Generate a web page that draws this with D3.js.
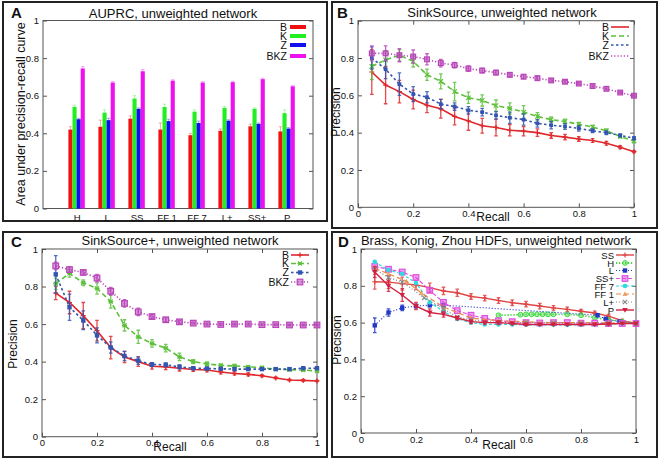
<!DOCTYPE html>
<html><head><meta charset="utf-8">
<script src="https://cdn.jsdelivr.net/npm/d3@7"></script>
<style>
body{margin:0;background:#fff}
svg{display:block}
text{font-family:"Liberation Sans",Arial,Helvetica,sans-serif;fill:#111}
</style>
</head><body>
<svg id="chart" width="661" height="462"></svg>
<script>
// ---------------- DATA ----------------
const axisTicks = [0, 0.2, 0.4, 0.6, 0.8, 1];
const axisTickLabels = ["0", "0.2", "0.4", "0.6", "0.8", "1"];

// Panel A
const aCategories = ["H", "L", "SS", "FF 1", "FF 7", "L+", "SS+", "P"];
const aSeriesNames = ["B", "K", "Z", "BKZ"];
const aB   = [0.420, 0.435, 0.478, 0.420, 0.390, 0.413, 0.437, 0.410];
const aK   = [0.540, 0.510, 0.585, 0.540, 0.515, 0.535, 0.530, 0.507];
const aZ   = [0.475, 0.470, 0.530, 0.465, 0.455, 0.467, 0.450, 0.425];
const aBKZ = [0.745, 0.670, 0.730, 0.680, 0.670, 0.672, 0.688, 0.650];
const aBErr   = [0.015, 0.035, 0.015, 0.035, 0.010, 0.010, 0.012, 0.025];
const aKErr   = [0.010, 0.015, 0.015, 0.015, 0.010, 0.008, 0.005, 0.018];
const aZErr   = [0.005, 0.010, 0.005, 0.010, 0.010, 0.005, 0.005, 0.005];
const aBKZErr = [0.010, 0.005, 0.010, 0.005, 0.005, 0.005, 0.005, 0.005];

// Recall grid used by panels B, C, D
const recall = [0.05, 0.10, 0.15, 0.20, 0.25, 0.30, 0.35, 0.40, 0.45, 0.50,
                0.55, 0.60, 0.65, 0.70, 0.75, 0.80, 0.85, 0.90, 0.95, 1.00];

// Panel B: SinkSource
const bB   = [0.725,0.655,0.620,0.578,0.547,0.528,0.487,0.463,0.437,0.428,0.413,0.408,0.400,0.385,0.376,0.366,0.358,0.343,0.322,0.298];
const bBErr= [0.120,0.100,0.060,0.050,0.040,0.050,0.045,0.050,0.040,0.045,0.030,0.025,0.020,0.015,0.015,0.012,0.010,0.010,0.008,0.005];
const bK   = [0.755,0.790,0.815,0.782,0.710,0.675,0.620,0.587,0.573,0.545,0.530,0.510,0.487,0.470,0.460,0.445,0.430,0.410,0.380,0.355];
const bKErr= [0.070,0.050,0.030,0.030,0.030,0.040,0.050,0.030,0.030,0.030,0.030,0.035,0.020,0.015,0.012,0.010,0.010,0.010,0.008,0.008];
const bZ   = [0.800,0.740,0.660,0.607,0.590,0.553,0.540,0.520,0.510,0.493,0.480,0.470,0.450,0.440,0.433,0.423,0.410,0.400,0.385,0.370];
const bZErr= [0.060,0.050,0.060,0.040,0.030,0.025,0.020,0.020,0.020,0.020,0.030,0.030,0.020,0.020,0.015,0.015,0.010,0.010,0.008,0.008];
const bBKZ = [0.825,0.825,0.815,0.808,0.793,0.773,0.762,0.743,0.733,0.722,0.710,0.700,0.692,0.680,0.673,0.663,0.650,0.635,0.615,0.598];
const bBKZErr=[0.040,0.040,0.035,0.035,0.030,0.020,0.015,0.015,0.012,0.012,0.010,0.010,0.010,0.008,0.008,0.006,0.006,0.005,0.005,0.005];

// Panel C: SinkSource+
const cB   = [0.765,0.715,0.645,0.565,0.475,0.425,0.400,0.375,0.372,0.365,0.358,0.355,0.345,0.337,0.332,0.325,0.313,0.302,0.300,0.297];
const cBErr= [0.035,0.060,0.070,0.055,0.060,0.030,0.025,0.015,0.015,0.015,0.010,0.010,0.010,0.008,0.008,0.006,0.005,0.005,0.005,0.004];
const cK   = [0.815,0.870,0.820,0.790,0.720,0.593,0.532,0.497,0.472,0.425,0.400,0.388,0.380,0.377,0.372,0.368,0.360,0.357,0.355,0.350];
const cKErr= [0.030,0.020,0.015,0.030,0.035,0.030,0.035,0.020,0.020,0.020,0.010,0.010,0.008,0.008,0.006,0.006,0.005,0.005,0.005,0.005];
const cZ   = [0.865,0.690,0.620,0.540,0.475,0.430,0.405,0.385,0.383,0.372,0.365,0.363,0.362,0.360,0.360,0.360,0.360,0.360,0.365,0.365];
const cZErr= [0.100,0.070,0.050,0.040,0.030,0.025,0.020,0.010,0.010,0.010,0.008,0.008,0.006,0.006,0.006,0.005,0.005,0.005,0.005,0.005];
const cBKZ = [0.910,0.890,0.875,0.845,0.775,0.710,0.665,0.640,0.623,0.612,0.605,0.600,0.598,0.600,0.600,0.597,0.597,0.595,0.595,0.595];
const cBKZErr=[0.020,0.015,0.010,0.020,0.020,0.020,0.020,0.010,0.010,0.008,0.005,0.005,0.005,0.005,0.005,0.004,0.004,0.004,0.004,0.004];

// Panel D: Brass, Konig, Zhou HDFs
const dSS    = [0.822,0.820,0.812,0.805,0.790,0.772,0.762,0.742,0.733,0.720,0.708,0.700,0.690,0.680,0.672,0.662,0.652,0.635,0.610,0.595];
const dSSErr = [0.040,0.035,0.035,0.025,0.025,0.020,0.020,0.015,0.015,0.015,0.015,0.015,0.015,0.012,0.012,0.010,0.010,0.010,0.008,0.005];
const dHRecall = [0.50, 0.58, 0.60, 0.62, 0.64, 0.66, 0.68, 0.70, 0.75, 0.80, 0.85, 0.90, 0.95, 1.00];
const dH       = [0.640,0.643,0.645,0.645,0.645,0.645,0.645,0.645,0.645,0.640,0.627,0.615,0.605,0.597];
const dLRecall = [0.05, 0.10, 0.15, 0.20, 0.25, 0.30, 0.86, 0.89, 0.94, 1.00];
const dL       = [0.585,0.655,0.680,0.690,0.695,0.695,0.640,0.620,0.605,0.595];
const dLErr    = [0.040,0.020,0.015,0.010,0.010,0.008,0.008,0.008,0.005,0.005];
const dSSp   = [0.905,0.890,0.875,0.845,0.775,0.710,0.665,0.640,0.623,0.610,0.605,0.600,0.598,0.600,0.600,0.597,0.597,0.595,0.595,0.595];
const dFF7   = [0.930,0.885,0.865,0.815,0.710,0.660,0.620,0.600,0.590,0.590,0.590,0.588,0.588,0.588,0.587,0.588,0.590,0.592,0.595,0.595];
const dFF1Recall = [0.05, 0.10, 0.165, 0.22, 0.30, 0.40, 0.50, 0.60, 0.70, 0.80, 0.90, 1.00];
const dFF1   = [0.895,0.865,0.825,0.760,0.685,0.625,0.610,0.605,0.600,0.600,0.598,0.595];
const dLpRecall = [0.05, 0.10, 0.15, 0.23, 0.30, 0.35, 0.40, 0.50, 0.60, 0.70, 0.80, 0.90, 1.00];
const dLp    = [0.890,0.845,0.820,0.735,0.675,0.630,0.615,0.600,0.600,0.598,0.597,0.597,0.595];
const dP     = [0.875,0.800,0.750,0.690,0.655,0.645,0.625,0.605,0.600,0.600,0.595,0.590,0.590,0.590,0.590,0.590,0.590,0.592,0.595,0.595];
const dPErr  = [0.030,0.030,0.035,0.020,0.020,0.015,0.010,0.010,0.008,0.008,0.006,0.006,0.005,0.005,0.005,0.005,0.005,0.005,0.005,0.005];

// ---------------- DRAWING ----------------
const svg = d3.select("#chart");
svg.append("rect").attr("width", 661).attr("height", 462).attr("fill", "#fff");
const TICK_FS = 9.5;

function frame(f, letter, lx, ly) {
  svg.append("rect").attr("x", f.x).attr("y", f.y).attr("width", f.w).attr("height", f.h)
    .attr("fill", "none").attr("stroke", "#222").attr("stroke-width", 2);
  svg.append("text").attr("x", lx).attr("y", ly).attr("font-size", 15).attr("font-weight", "bold").text(letter);
}

function axesFor(g, x, y, p, opts) {
  g.append("rect").attr("x", p.l).attr("y", p.t).attr("width", p.r - p.l).attr("height", p.b - p.t)
    .attr("fill", "none").attr("stroke", "#555").attr("stroke-width", 1);
  const yl = g.append("g").attr("transform", `translate(${p.l},0)`)
    .call(d3.axisLeft(y).tickValues(axisTicks).tickFormat((d, i) => axisTickLabels[i]).tickSize(-4).tickPadding(4));
  const yr = g.append("g").attr("transform", `translate(${p.r},0)`)
    .call(d3.axisRight(y).tickValues(axisTicks).tickFormat("").tickSize(-4));
  [yl, yr].forEach(a => { a.select(".domain").remove(); a.selectAll("line").attr("stroke", "#555"); a.selectAll("text").attr("font-size", TICK_FS).attr("fill", "#111"); });
  if (opts.xTicks) {
    const xb = g.append("g").attr("transform", `translate(0,${p.b})`)
      .call(d3.axisBottom(x).tickValues(axisTicks).tickFormat((d, i) => axisTickLabels[i]).tickSize(-4).tickPadding(3));
    const xt = g.append("g").attr("transform", `translate(0,${p.t})`)
      .call(d3.axisTop(x).tickValues(axisTicks).tickFormat("").tickSize(-4));
    [xb, xt].forEach(a => { a.select(".domain").remove(); a.selectAll("line").attr("stroke", "#555"); a.selectAll("text").attr("font-size", TICK_FS).attr("fill", "#111"); });
  }
}

function marker(g, type, cx, cy, color, s) {
  s = s || 1;
  if (type === "+") {
    g.append("path").attr("d", `M${cx-2.5*s},${cy}H${cx+2.5*s}M${cx},${cy-2.5*s}V${cy+2.5*s}`).attr("stroke", color).attr("stroke-width", 1.2);
  } else if (type === "x") {
    g.append("path").attr("d", `M${cx-2.2*s},${cy-2.2*s}L${cx+2.2*s},${cy+2.2*s}M${cx-2.2*s},${cy+2.2*s}L${cx+2.2*s},${cy-2.2*s}`).attr("stroke", color).attr("stroke-width", 1.2);
  } else if (type === "*") {
    g.append("path").attr("d", `M${cx-2.5*s},${cy}H${cx+2.5*s}M${cx-2*s},${cy-2*s}L${cx+2*s},${cy+2*s}M${cx-2*s},${cy+2*s}L${cx+2*s},${cy-2*s}`).attr("stroke", color).attr("stroke-width", 1.2);
  } else if (type === "sq") {
    g.append("rect").attr("x", cx-2.2*s).attr("y", cy-2.2*s).attr("width", 4.4*s).attr("height", 4.4*s).attr("fill", color);
  } else if (type === "osq") {
    g.append("rect").attr("x", cx-2.8*s).attr("y", cy-2.8*s).attr("width", 5.6*s).attr("height", 5.6*s)
      .attr("fill", color).attr("fill-opacity", 0.55).attr("stroke", color).attr("stroke-width", 1.2);
  } else if (type === "circ") {
    g.append("circle").attr("cx", cx).attr("cy", cy).attr("r", 2.3*s).attr("fill", color);
  } else if (type === "ocirc") {
    g.append("circle").attr("cx", cx).attr("cy", cy).attr("r", 2.4*s).attr("fill", color).attr("fill-opacity", 0.4).attr("stroke", color).attr("stroke-width", 1);
  } else if (type === "tri") {
    g.append("path").attr("d", `M${cx},${cy-2.8*s}L${cx+2.6*s},${cy+2*s}L${cx-2.6*s},${cy+2*s}Z`).attr("fill", color).attr("fill-opacity", 0.7);
  } else if (type === "itri") {
    g.append("path").attr("d", `M${cx},${cy+2.8*s}L${cx+2.8*s},${cy-2*s}L${cx-2.8*s},${cy-2*s}Z`).attr("fill", color);
  }
}

function linePanel(cfg) {
  frame(cfg.frame, cfg.letter, cfg.letterX, cfg.letterY);
  const p = cfg.plot;
  const g = svg.append("g");
  const x = d3.scaleLinear().domain([0, 1]).range([p.l, p.r]);
  const y = d3.scaleLinear().domain([0, 1]).range([p.b, p.t]);
  g.append("text").attr("x", cfg.titleX).attr("y", cfg.titleY).attr("text-anchor", "middle").attr("font-size", 13).text(cfg.title);
  axesFor(g, x, y, p, { xTicks: true });
  g.append("text").attr("x", cfg.xLabelX).attr("y", cfg.xLabelY).attr("text-anchor", "middle").attr("font-size", 12).text("Recall");
  g.append("text").attr("transform", `translate(${cfg.yLabelX},${cfg.yLabelY}) rotate(-90)`).attr("text-anchor", "middle").attr("font-size", 12).text("Precision");

  cfg.series.forEach(s => {
    const pts = s.xs.map((xv, i) => ({ x: xv, y: s.ys[i], e: s.errs ? s.errs[i] : 0 }));
    const sg = g.append("g");
    if (s.errs) {
      pts.forEach(d => {
        const px = x(d.x), y0 = y(d.y - d.e), y1 = y(d.y + d.e);
        sg.append("path").attr("d", `M${px},${y0}V${y1}M${px-1.8},${y0}H${px+1.8}M${px-1.8},${y1}H${px+1.8}`)
          .attr("stroke", s.color).attr("stroke-width", s.ew || 1.3).attr("stroke-opacity", 0.85).attr("fill", "none");
      });
    }
    sg.append("path").datum(pts).attr("fill", "none").attr("stroke", s.color).attr("stroke-width", s.width || 1.5)
      .attr("stroke-dasharray", s.dash || null)
      .attr("d", d3.line().x(d => x(d.x)).y(d => y(d.y)));
    pts.forEach(d => marker(sg, s.marker, x(d.x), y(d.y), s.color, s.ms));
  });

  const L = cfg.legend;
  cfg.series.forEach((s, i) => {
    const yy = L.ys[i];
    g.append("text").attr("x", L.x).attr("y", yy + 3.5).attr("text-anchor", "end").attr("font-size", L.fs || 11).text(s.name);
    g.append("line").attr("x1", L.x + 2).attr("x2", L.x + 20).attr("y1", yy).attr("y2", yy)
      .attr("stroke", s.color).attr("stroke-width", s.width || 1.5).attr("stroke-dasharray", s.dash || null);
    if (L.markers) marker(g, s.marker, L.x + 11, yy, s.color, s.ms);
  });
}

// ----- Panel A (bars) -----
(function () {
  frame({ x: 3, y: 2, w: 324, h: 219 }, "A", 11, 18);
  const p = { l: 43, r: 313, t: 20.5, b: 208.5 };
  const g = svg.append("g");
  const x = d3.scaleLinear().domain([-1.12, 7.88]).range([p.l, p.r]);
  const y = d3.scaleLinear().domain([0, 1]).range([p.b, p.t]);
  const band = d3.scaleBand().domain(aSeriesNames).range([-8.2, 8.2]);
  const colors = ["#f01010", "#22ee22", "#1010ee", "#ee10ee"];
  const vals = [aB, aK, aZ, aBKZ];
  const errs = [aBErr, aKErr, aZErr, aBKZErr];
  g.append("text").attr("x", 173).attr("y", 18).attr("text-anchor", "middle").attr("font-size", 13).text("AUPRC, unweighted network");
  axesFor(g, x, y, p, { xTicks: false });
  const xa = g.append("g").attr("transform", `translate(0,${p.b})`)
    .call(d3.axisBottom(x).tickValues(d3.range(aCategories.length)).tickFormat(i => aCategories[i]).tickSize(0).tickPadding(6));
  xa.select(".domain").remove();
  xa.selectAll("text").attr("font-size", TICK_FS).attr("fill", "#111");
  g.append("text").attr("transform", "translate(25,114) rotate(-90)").attr("text-anchor", "middle").attr("font-size", 12.5)
    .text("Area under precision-recall curve");
  aSeriesNames.forEach((name, si) => {
    aCategories.forEach((c, ci) => {
      const x0 = x(ci) + band(name);
      const v = vals[si][ci];
      g.append("rect").attr("x", x0).attr("y", y(v)).attr("width", band.bandwidth()).attr("height", y(0) - y(v)).attr("fill", colors[si]);
      const cx = x0 + band.bandwidth() / 2, e = errs[si][ci];
      g.append("path").attr("d", `M${cx},${y(v)}V${y(v + e)}M${cx-1.8},${y(v + e)}H${cx+1.8}`)
        .attr("stroke", colors[si]).attr("stroke-opacity", 0.35).attr("stroke-width", 1).attr("fill", "none");
    });
  });
  const legendYs = [27, 36, 45, 56];
  aSeriesNames.forEach((name, si) => {
    g.append("text").attr("x", 287).attr("y", legendYs[si] + 4).attr("text-anchor", "end").attr("font-size", 10.5).text(name);
    g.append("rect").attr("x", 290).attr("y", legendYs[si] - 2).attr("width", 16).attr("height", 4).attr("fill", colors[si]);
  });
})();

// ----- Panel B -----
const colRed = "#e0282c", colGreen = "#5cc03a", colBlue = "#3355b0", colMag = "#b845b8";
linePanel({
  frame: { x: 332, y: 2, w: 325, h: 226 }, letter: "B", letterX: 337, letterY: 18,
  plot: { l: 358, r: 634, t: 20.7, b: 207.3 },
  title: "SinkSource, unweighted network", titleX: 502, titleY: 17,
  xLabelX: 493, xLabelY: 221, yLabelX: 340, yLabelY: 112,
  legend: { x: 609, ys: [27, 36, 45, 56], markers: false, fs: 10.5 },
  series: [
    { name: "B", xs: recall, ys: bB, errs: bBErr, color: colRed, marker: "+", width: 1.6 },
    { name: "K", xs: recall, ys: bK, errs: bKErr, color: colGreen, dash: "5,3", marker: "x", width: 1.6 },
    { name: "Z", xs: recall, ys: bZ, errs: bZErr, color: colBlue, dash: "2.5,2.5", marker: "sq", width: 1.6, ms: 0.85 },
    { name: "BKZ", xs: recall, ys: bBKZ, errs: bBKZErr, color: colMag, dash: "1.2,2", marker: "osq", width: 1.6, ms: 0.85 }
  ]
});

// ----- Panel C -----
linePanel({
  frame: { x: 3, y: 232, w: 324, h: 225 }, letter: "C", letterX: 11, letterY: 247,
  plot: { l: 42, r: 317, t: 249, b: 436.7 },
  title: "SinkSource+, unweighted network", titleX: 180, titleY: 245,
  xLabelX: 170, xLabelY: 451, yLabelX: 17, yLabelY: 344,
  legend: { x: 289, ys: [255, 263.5, 272.5, 282], markers: true, fs: 10.5 },
  series: [
    { name: "B", xs: recall, ys: cB, errs: cBErr, color: colRed, marker: "+", width: 1.6 },
    { name: "K", xs: recall, ys: cK, errs: cKErr, color: colGreen, dash: "5,3", marker: "*", width: 1.6 },
    { name: "Z", xs: recall, ys: cZ, errs: cZErr, color: colBlue, dash: "2.5,2.5", marker: "sq", width: 1.6 },
    { name: "BKZ", xs: recall, ys: cBKZ, errs: cBKZErr, color: colMag, dash: "1.2,2", marker: "osq", width: 1.6 }
  ]
});

// ----- Panel D -----
linePanel({
  frame: { x: 332, y: 232, w: 325, h: 225 }, letter: "D", letterX: 338, letterY: 247,
  plot: { l: 361, r: 636, t: 249, b: 433 },
  title: "Brass, Konig, Zhou HDFs, unweighted network", titleX: 496, titleY: 245,
  xLabelX: 499, xLabelY: 449, yLabelX: 341, yLabelY: 340,
  legend: { x: 614, ys: [255, 263, 270.5, 278.5, 286, 294, 302, 310], markers: true, fs: 9.5 },
  series: [
    { name: "SS", xs: recall, ys: dSS, errs: dSSErr, color: "#e04545", marker: "+", width: 1.4 },
    { name: "H", xs: dHRecall, ys: dH, errs: null, color: "#3ed83e", dash: "1.2,1.8", marker: "ocirc", width: 1.8 },
    { name: "L", xs: dLRecall, ys: dL, errs: dLErr, color: "#2438c8", dash: "1,2", marker: "sq", width: 1.2 },
    { name: "SS+", xs: recall, ys: dSSp, errs: null, color: "#e050e0", dash: "4,2", marker: "osq", width: 1.2 },
    { name: "FF 7", xs: recall, ys: dFF7, errs: null, color: "#30d8e0", dash: "3,2", marker: "circ", width: 1.2 },
    { name: "FF 1", xs: dFF1Recall, ys: dFF1, errs: null, color: "#e88840", dash: "5,3", marker: "tri", width: 1.2 },
    { name: "L+", xs: dLpRecall, ys: dLp, errs: null, color: "#888888", dash: "1,2", marker: "x", width: 1.2 },
    { name: "P", xs: recall, ys: dP, errs: dPErr, color: "#d42040", marker: "itri", width: 1.4 }
  ]
});
</script>
</body></html>
